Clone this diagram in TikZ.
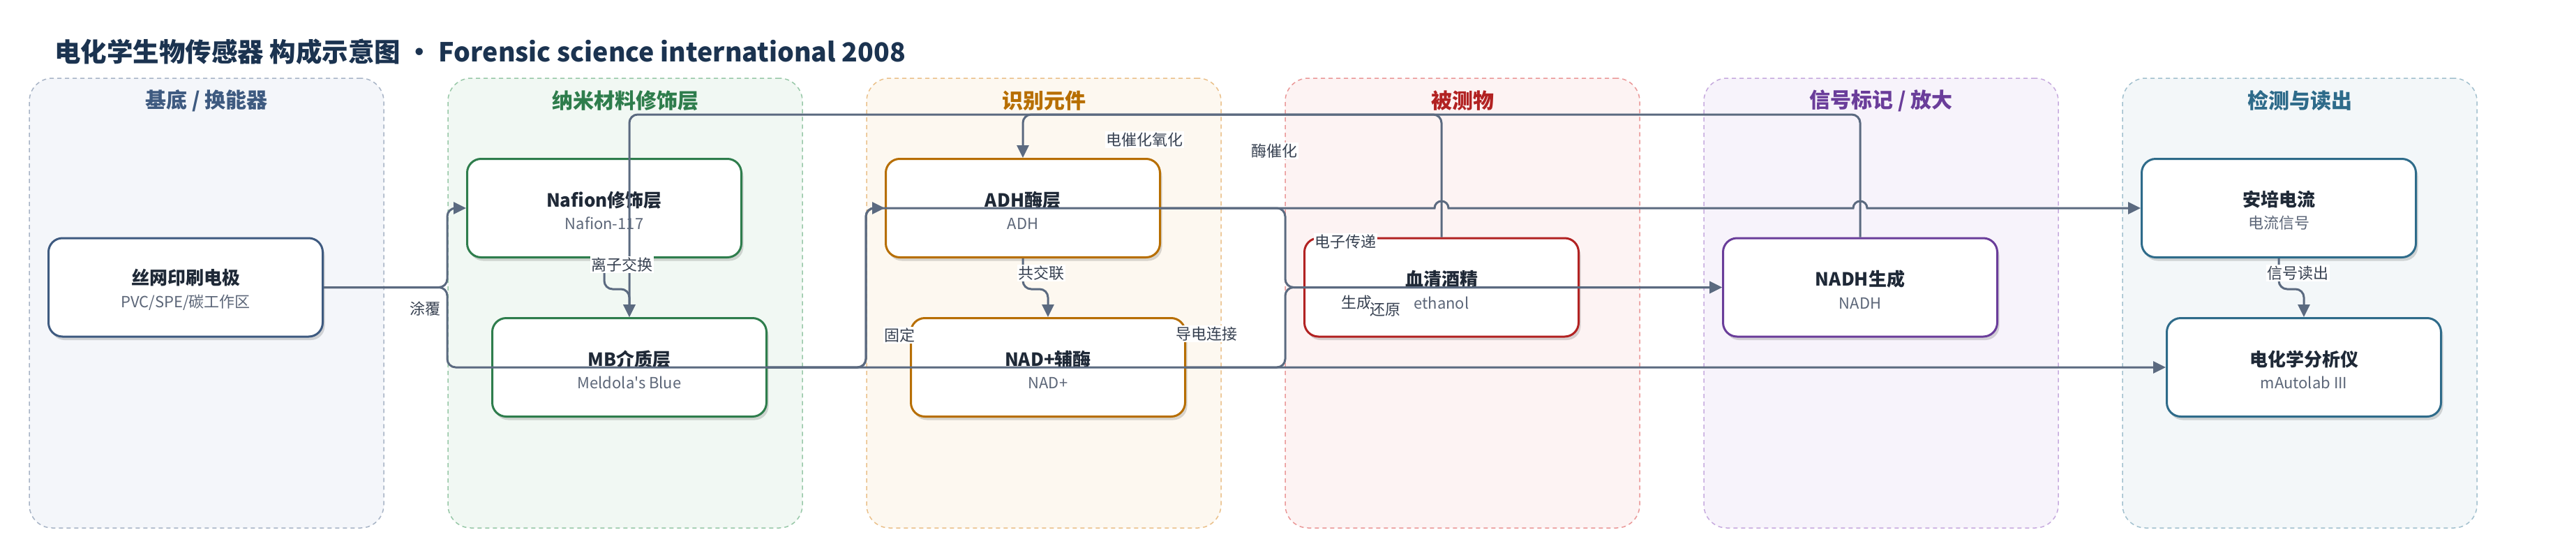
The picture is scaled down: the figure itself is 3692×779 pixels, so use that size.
\documentclass[tikz,border=0pt]{standalone}
\usepackage{fontspec}
\setmainfont[Ligatures=TeXOff]{Noto Sans CJK SC}
\usetikzlibrary{arrows.meta,shadows}

% ink and line colours
\definecolor{inkTitle}{RGB}{27,51,80}
\definecolor{inkNode}{RGB}{31,41,55}
\definecolor{inkSub}{RGB}{92,102,120}
\definecolor{inkLabel}{RGB}{55,65,81}
\definecolor{linkGray}{RGB}{91,106,128}
% lane colours: fill, dashed border, title / node border
\definecolor{baseFill}{RGB}{244,246,250}
\definecolor{baseDash}{RGB}{168,180,198}
\definecolor{baseInk}{RGB}{62,90,128}
\definecolor{nanoFill}{RGB}{241,248,243}
\definecolor{nanoDash}{RGB}{152,200,168}
\definecolor{nanoInk}{RGB}{46,125,76}
\definecolor{recFill}{RGB}{253,248,240}
\definecolor{recDash}{RGB}{234,192,138}
\definecolor{recInk}{RGB}{183,110,0}
\definecolor{anaFill}{RGB}{253,243,243}
\definecolor{anaDash}{RGB}{234,152,152}
\definecolor{anaInk}{RGB}{178,34,34}
\definecolor{sigFill}{RGB}{247,243,251}
\definecolor{sigDash}{RGB}{198,170,222}
\definecolor{sigInk}{RGB}{106,61,154}
\definecolor{detFill}{RGB}{243,247,249}
\definecolor{detDash}{RGB}{162,192,206}
\definecolor{detInk}{RGB}{46,107,138}

\newcommand{\ntitle}[1]{{\bfseries\fontsize{26}{32.5}\selectfont\color{inkNode}\rule{0pt}{29pt}#1}}
\newcommand{\nsub}[1]{#1}

\begin{document}
\begin{tikzpicture}[x=1pt,y=-1pt,
    lane/.style={rounded corners=33pt,dash pattern=on 6pt off 5pt,line width=1.5pt,
      minimum width=508pt,minimum height=644pt},
    lanetitle/.style={font=\bfseries\fontsize{30}{34}\selectfont},
    box/.style={rounded corners=20pt,line width=3pt,fill=white,
      minimum width=393pt,minimum height=141pt,align=center,text=inkSub,
      font=\fontsize{22}{32.5}\selectfont,
      drop shadow={shadow xshift=3pt,shadow yshift=-5pt,opacity=0.15,fill=black}},
    link/.style={draw=linkGray,line width=3pt,rounded corners=12pt,
      -{Triangle[length=18pt,width=17pt]}},
    elabel/.style={fill=white,inner sep=1.5pt,text=inkLabel,
      font=\fontsize{22}{24}\selectfont}]

    \useasboundingbox (0,0) rectangle (3692,779);

    % Title
    \node[anchor=west,inner sep=0pt,text=inkTitle,font=\bfseries\fontsize{37.5}{42}\selectfont]
      (title) at (78,74) {电化学生物传感器 构成示意图 • Forensic science international 2008};

    % Lanes
    \node[lane,draw=baseDash,fill=baseFill] (laneBase) at (296,434) {};
    \node[lane,draw=nanoDash,fill=nanoFill] (laneNano) at (896,434) {};
    \node[lane,draw=recDash,fill=recFill] (laneRec) at (1496,434) {};
    \node[lane,draw=anaDash,fill=anaFill] (laneAna) at (2096,434) {};
    \node[lane,draw=sigDash,fill=sigFill] (laneSig) at (2696,434) {};
    \node[lane,draw=detDash,fill=detFill] (laneDet) at (3296,434) {};

    \node[lanetitle,text=baseInk] (tBase) at (296,144) {基底 / 换能器};
    \node[lanetitle,text=nanoInk] (tNano) at (896,144) {纳米材料修饰层};
    \node[lanetitle,text=recInk] (tRec) at (1496,144) {识别元件};
    \node[lanetitle,text=anaInk] (tAna) at (2096,144) {被测物};
    \node[lanetitle,text=sigInk] (tSig) at (2696,144) {信号标记 / 放大};
    \node[lanetitle,text=detInk] (tDet) at (3296,144) {检测与读出};

    % Components
    \node[box,draw=baseInk] (spe) at (266,411.5) {\ntitle{丝网印刷电极}\\\nsub{PVC/SPE/碳工作区}};
    \node[box,draw=nanoInk] (nafion) at (866,298) {\ntitle{Nafion修饰层}\\\nsub{Nafion-117}};
    \node[box,draw=nanoInk] (mb) at (902,526) {\ntitle{MB介质层}\\\nsub{Meldola's Blue}};
    \node[box,draw=recInk] (adh) at (1466,298) {\ntitle{ADH酶层}\\\nsub{ADH}};
    \node[box,draw=recInk] (nad) at (1502,526) {\ntitle{NAD+辅酶}\\\nsub{NAD+}};
    \node[box,draw=anaInk] (eth) at (2066,411.5) {\ntitle{血清酒精}\\\nsub{ethanol}};
    \node[box,draw=sigInk] (nadh) at (2666,411.5) {\ntitle{NADH生成}\\\nsub{NADH}};
    \node[box,draw=detInk] (amp) at (3266,298) {\ntitle{安培电流}\\\nsub{电流信号}};
    \node[box,draw=detInk] (ana) at (3302,526) {\ntitle{电化学分析仪}\\\nsub{mAutolab III}};

    % Links from the electrode
    \draw[link] (spe.east) -- (641,411.5) |- (nafion.west);
    \draw[link] (spe.east) -- (641,411.5) |- (ana.west);

    % Links from the mediator (the long one hops over the two risers)
    \draw[link] (mb.east) -- (1241,526) |- (adh.west);
    \draw[link,sharp corners] (mb.east) -- (1229,526)
      arc[start angle=-90,end angle=0,radius=12pt] -- (1241,310)
      arc[start angle=180,end angle=90,radius=12pt] -- (2056,298)
      arc[start angle=180,end angle=0,radius=10pt] -- (2656,298)
      arc[start angle=180,end angle=0,radius=10pt] -- (amp.west);

    % Into NADH
    \draw[link] (adh.east) -- (1842,298) |- (nadh.west);
    \draw[link] (nad.east) -- (1842,526) |- (nadh.west);

    % Top track
    \draw[link] (eth.north) |- (1466,164) -- (adh.north);
    \draw[link] (nadh.north) |- (902,164) -- (mb.north);

    % Short drops inside lanes
    \draw[link] (nafion.south) -- ++(0,44) -| (mb.north);
    \draw[link] (adh.south) -- ++(0,44) -| (nad.north);
    \draw[link] (amp.south) -- ++(0,44) -| (ana.north);

    % Link labels
    \node[elabel] (lCoat) at (609,442) {涂覆};
    \node[elabel] (lIon) at (891,379) {离子交换};
    \node[elabel] (lCross) at (1492,391) {共交联};
    \node[elabel] (lFix) at (1289,480) {固定};
    \node[elabel] (lWire) at (1729,478) {导电连接};
    \node[elabel] (lElox) at (1640,200) {电催化氧化};
    \node[elabel] (lEnz) at (1826,216) {酶催化};
    \node[elabel] (lTrans) at (1928,346) {电子传递};
    \node[elabel] (lGen) at (1944,433) {生成};
    \node[elabel] (lRed) at (1985,443) {还原};
    \node[elabel] (lRead) at (3293,391) {信号读出};

  \end{tikzpicture}
\end{document}
